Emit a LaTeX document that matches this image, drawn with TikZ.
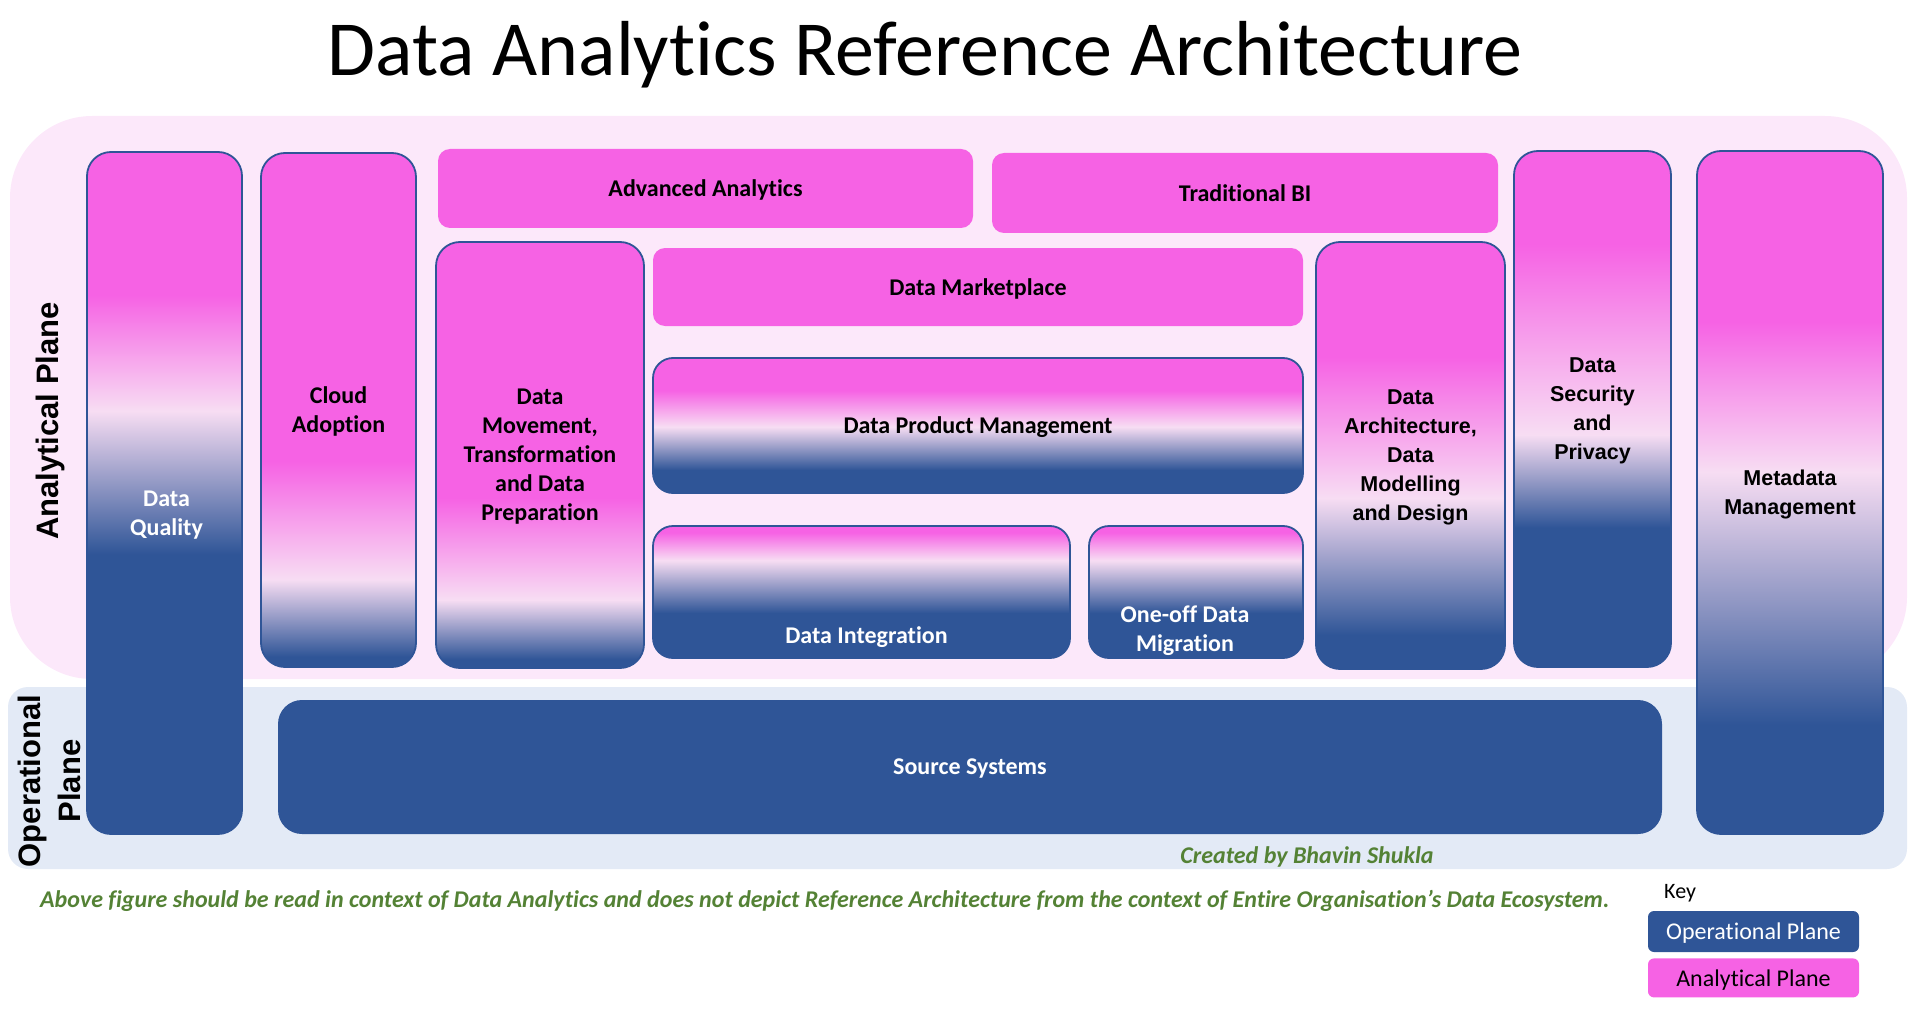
\documentclass[tikz,border=0pt]{standalone}
\usepackage{fontspec}
\setmainfont{Carlito}[Ligatures=NoCommon]
\newfontfamily\arialfont{Liberation Sans}
\usetikzlibrary{calc}
\usetikzlibrary{shapes}
\usetikzlibrary{positioning}

\definecolor{opblue}{HTML}{2F5597}
\definecolor{anpink}{HTML}{F662E4}
\definecolor{planewhite}{HTML}{F7DDF3}
\definecolor{anplane}{HTML}{FCE8FA}
\definecolor{opplane}{HTML}{E3EAF6}
\definecolor{notegreen}{HTML}{548235}

% blue up to #2, pale at #3, pink from #4 (bp, box spans 25..75)
\newcommand{\planeshading}[4]{\pgfdeclareverticalshading{#1}{100bp}{color(0bp)=(opblue); color(#2bp)=(opblue); color(#3bp)=(planewhite); color(#4bp)=(anpink); color(100bp)=(anpink)}}
\planeshading{dqshade}{45.5}{56}{64.5}
\planeshading{cloudshade}{26}{33.5}{45}
\planeshading{moveshade}{26}{33}{45}
\planeshading{dpmshade}{33.5}{49.5}{63}
\planeshading{dishade}{42}{62}{72.5}
\planeshading{archshade}{29}{45}{61.5}
\planeshading{secshade}{38.5}{47.5}{66}
\planeshading{metashade}{33}{51.5}{62.5}

\tikzset{
  box/.style={rounded corners=24pt, draw=opblue, line width=1.8pt, inner sep=0pt, text depth=0pt,
    align=center, font=\fontsize{24}{29}\selectfont\bfseries},
  flatbox/.style={rounded corners=12pt, fill=anpink, inner sep=0pt, text depth=0pt,
    align=center, font=\fontsize{24}{29}\selectfont\bfseries},
  arialbox/.style={box, font=\arialfont\fontsize{21.5}{29}\selectfont\bfseries},
  boxtext/.style={align=center, inner sep=0pt, text depth=0pt, font=\fontsize{24}{29}\selectfont\bfseries},
  planelabel/.style={rotate=90, align=center, font=\arialfont\fontsize{31}{40}\selectfont\bfseries},
  keybox/.style={rounded corners=6pt, minimum width=211pt, inner sep=0pt, text depth=0pt, font=\fontsize{24}{26}\selectfont},
  note/.style={text=notegreen, inner sep=0pt, font=\fontsize{24}{28}\selectfont\bfseries\itshape},
}

\begin{document}
\begin{tikzpicture}[x=1pt,y=-1pt]
	\useasboundingbox (0,0) rectangle (1914,1019);
	\node[font=\fontsize{78}{90}\selectfont, anchor=base] (title) at (925,76) {Data Analytics Reference Architecture};

	% the two planes
	\fill[anplane, rounded corners=82pt] (10,116) rectangle (1907,679);
	\fill[opplane, rounded corners=20pt] (8,687) rectangle (1907,869);
	\node[planelabel] (anlabel) at (50,421) {Analytical Plane};
	\node[planelabel] (oplabel) at (49,781) {Operational\\Plane};

	\node[box, shading=dqshade, minimum width=155pt, minimum height=682pt] (dq) at (164.5,493) {};
	\node[boxtext, text=white] (dqtext) at ($(dq.center)+(2,20.5)$) {Data\\Quality};
	\node[box, shading=cloudshade, minimum width=155pt, minimum height=514pt] (cloud) at (338.5,410) {Cloud\\Adoption};
	\node[box, shading=moveshade, minimum width=208pt, minimum height=426pt] (move) at (540,455) {Data\\Movement,\\Transformation\\and Data\\Preparation};

	\node[flatbox, minimum width=535pt, minimum height=79pt] (adv) at (705.5,188.5) {Advanced Analytics};
	\node[flatbox, minimum width=506pt, minimum height=80pt] (tbi) at (1245,193) {Traditional BI};
	\node[flatbox, minimum width=650pt, minimum height=78pt] (market) at (978,287) {Data Marketplace};
	\node[box, rounded corners=20pt, shading=dpmshade, minimum width=650pt, minimum height=135pt] (dpm) at (978,425.5) {Data Product Management};
	\node[box, rounded corners=20pt, shading=dishade, minimum width=417pt, minimum height=132pt] (di) at (861.5,592) {};
	\node[boxtext, text=white] (ditext) at ($(di.center)+(5,43)$) {Data Integration};
	\node[box, rounded corners=20pt, shading=dishade, minimum width=214pt, minimum height=132pt] (oneoff) at (1196,592) {};
	\node[boxtext, text=white] (oneofftext) at ($(oneoff.center)+(-11,37)$) {One-off Data\\Migration};

	\node[arialbox, shading=archshade, minimum width=189pt, minimum height=427pt] (arch) at (1410.5,455.5) {Data\\Architecture,\\Data\\Modelling\\and Design};
	\node[arialbox, shading=secshade, minimum width=157pt, minimum height=516pt] (sec) at (1592.5,409) {Data\\Security\\and\\Privacy};
	\node[arialbox, shading=metashade, minimum width=186pt, minimum height=683pt] (meta) at (1790,492.5) {Metadata\\Management};

	\node[box, draw=none, fill=opblue, text=white, minimum width=1384pt, minimum height=134pt] (source) at (970,767) {Source Systems};

	\node[note] (credit) at (1307,857) {Created by Bhavin Shukla};
	\node[note, anchor=west] (disclaimer) at (40,901) {Above figure should be read in context of Data Analytics and does not depict Reference Architecture from the context of Entire Organisation’s Data Ecosystem.};

	% key
	\node[keybox, fill=opblue, text=white, minimum height=41pt] (opkey) at (1753.5,931.5) {Operational Plane};
	\node[keybox, fill=anpink, minimum height=39pt, below=6pt of opkey] (ankey) {Analytical Plane};
	\node[inner sep=0pt, anchor=west, text depth=0pt, font=\fontsize{22}{26}\selectfont] (key) at (1664,891) {Key};
\end{tikzpicture}
\end{document}
